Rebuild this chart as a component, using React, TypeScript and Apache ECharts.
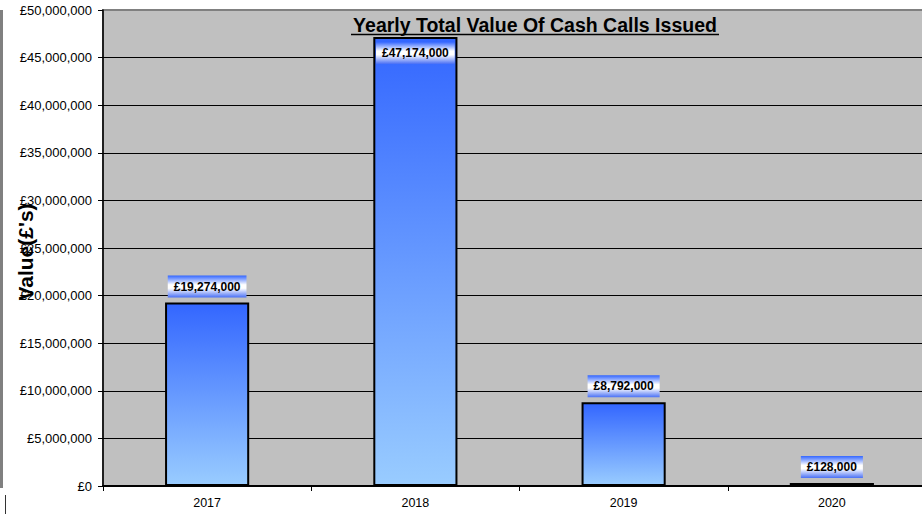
import React, { useEffect, useRef } from "react";
import * as echarts from "echarts";

const categories = ["2017", "2018", "2019", "2020"];
const values = [19274000, 47174000, 8792000, 128000];
const yMin = 0;
const yMax = 50000000;
const yStep = 5000000;
const title = "Yearly Total Value Of Cash Calls Issued";
const yName = "Value(£'s)";

const FONT = 'Arial, "Liberation Sans", sans-serif';

const fmt = (v: number) => "£" + v.toLocaleString("en-GB");

export default function App() {
  const ref = useRef<HTMLDivElement>(null);
  useEffect(() => {
    if (!ref.current) return;
    const chart = echarts.init(ref.current, undefined, { renderer: "svg" });
    const barGrad = new echarts.graphic.LinearGradient(0, 0, 0, 1, [
      { offset: 0, color: "#3366ff" },
      { offset: 1, color: "#99ccff" },
    ]);
    const labelGrad = new echarts.graphic.LinearGradient(0, 0, 0, 1, [
      { offset: 0, color: "#3366ff" },
      { offset: 0.42, color: "#ffffff" },
      { offset: 0.58, color: "#ffffff" },
      { offset: 1, color: "#4a70f5" },
    ]);
    chart.setOption({
      animation: false,
      backgroundColor: "#ffffff",
      grid: {
        left: 103,
        top: 10,
        right: 0,
        bottom: 28,
        show: true,
        backgroundColor: "#c0c0c0",
        borderColor: "#808080",
        borderWidth: 2,
      },
      xAxis: {
        type: "category",
        data: categories,
        boundaryGap: true,
        axisLine: { show: true, lineStyle: { color: "#000", width: 2 } },
        axisTick: { show: true, length: 5, lineStyle: { color: "#000" } },
        axisLabel: { color: "#000", fontSize: 12.5, fontFamily: FONT, margin: 10 },
        splitLine: { show: false },
      },
      yAxis: {
        type: "value",
        min: yMin,
        max: yMax,
        interval: yStep,
        axisLine: { show: true, lineStyle: { color: "#000", width: 1.5 } },
        axisTick: { show: true, length: 5, lineStyle: { color: "#000" } },
        axisLabel: {
          color: "#000",
          fontSize: 13,
          fontFamily: FONT,
          margin: 11,
          formatter: (v: number) => fmt(v),
        },
        splitLine: { show: true, showMaxLine: false, lineStyle: { color: "#000", width: 1 } },
      },
      series: [
        {
          type: "bar",
          barWidth: "40.4%",
          barMinHeight: 3,
          data: values.map((v) => ({
            value: v,
            label:
              v > yMax * 0.9
                ? { position: "insideTop", distance: 5 }
                : { position: "top", distance: 5 },
          })),
          itemStyle: { color: barGrad, borderColor: "#000", borderWidth: 2 },
          label: {
            show: true,
            formatter: (p: any) => fmt(p.value),
            color: "#000",
            fontSize: 12,
            fontWeight: "bold",
            fontFamily: FONT,
            padding: [5, 6, 5, 6],
            backgroundColor: labelGrad,
          },
        },
      ],
      graphic: [
        {
          type: "text",
          x: 535,
          y: 25,
          style: {
            text: title,
            fontSize: 19.5,
            fontWeight: "bold",
            fontFamily: FONT,
            fill: "#000",
            align: "center",
            verticalAlign: "middle",
          },
          z: 100,
        },
        {
          type: "line",
          shape: { x1: 351, y1: 34.5, x2: 719, y2: 34.5 },
          style: { stroke: "#000", lineWidth: 1.5 },
          z: 100,
        },
        {
          type: "text",
          x: 25,
          y: 252,
          rotation: Math.PI / 2,
          style: {
            text: yName,
            fontSize: 21,
            fontWeight: "bold",
            fontFamily: FONT,
            fill: "#000",
            align: "center",
            verticalAlign: "middle",
          },
          z: 100,
        },
        {
          type: "line",
          shape: { x1: 1.5, y1: 10, x2: 1.5, y2: 488 },
          style: { stroke: "#808080", lineWidth: 3 },
        },
        {
          type: "line",
          shape: { x1: 5.5, y1: 495, x2: 5.5, y2: 514 },
          style: { stroke: "#333", lineWidth: 1 },
        },
      ],
    });
    return () => chart.dispose();
  }, []);
  return (
    <div
      style={{
        position: "fixed",
        left: 0,
        top: 0,
        width: 922,
        height: 514,
        overflow: "hidden",
        background: "#fff",
      }}
    >
      <div ref={ref} style={{ width: 936, height: 514 }} />
    </div>
  );
}
